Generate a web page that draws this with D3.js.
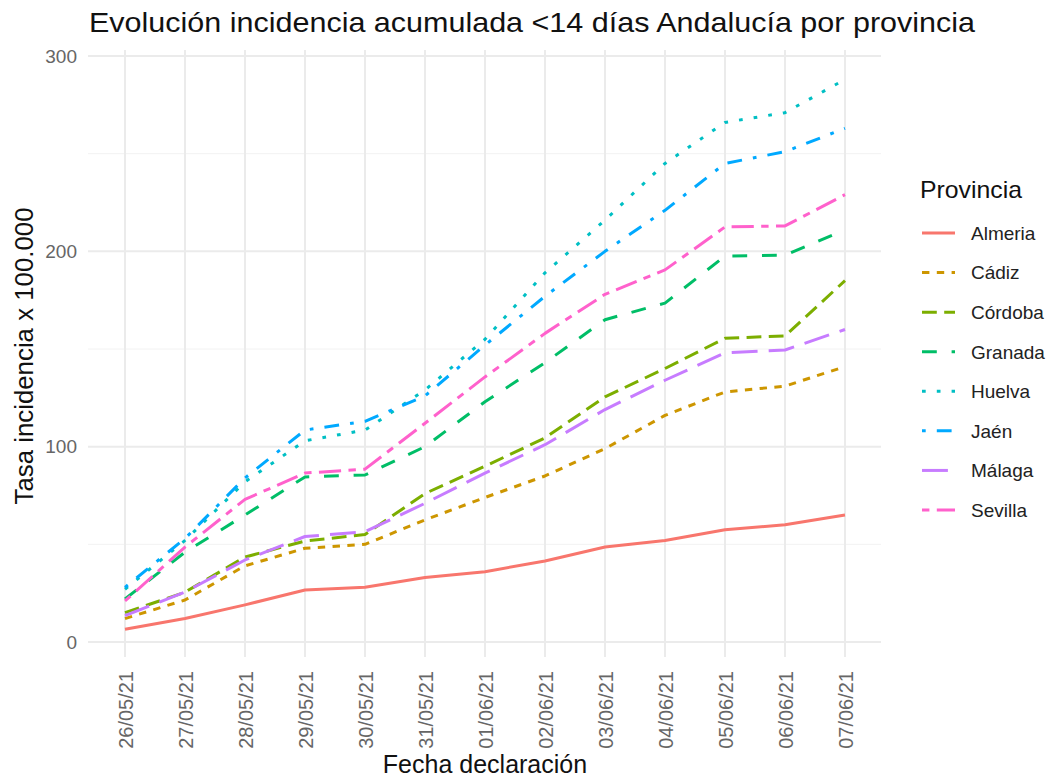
<!DOCTYPE html>
<html><head><meta charset="utf-8">
<script src="https://cdn.jsdelivr.net/npm/d3@7"></script>
<style>body{margin:0;background:#fff}svg{display:block}text{font-family:"Liberation Sans",Arial,sans-serif}</style>
</head><body><svg id="c" width="1055" height="778"></svg>
<script>
const fechas = ["26/05/21","27/05/21","28/05/21","29/05/21","30/05/21","31/05/21","01/06/21","02/06/21","03/06/21","04/06/21","05/06/21","06/06/21","07/06/21"];
const provincias = ["Almeria","Cádiz","Córdoba","Granada","Huelva","Jaén","Málaga","Sevilla"];
const almeria = [6.5,12,19,26.6,28,33,36,41.5,48.6,52,57.5,60,65];
const cadiz   = [12,21.5,39,48,50,62.5,74,85,99,116,128,131,141];
const cordoba = [15,25.5,43.5,51.7,55,76,90,104.5,125.5,140,155.5,156.7,185];
const granada = [22,46,65,84.5,85.5,100,123,143,165,173.5,197.6,198,211];
const huelva  = [27,52,82,103,108.5,129,155,189,216,245,266,271,288];
const jaen    = [28,53,84,108.5,113,126,152,177,200,221,245,251,263];
const malaga  = [13.5,25.6,42,54,56.5,71,86.5,101,119,134,148,149.5,160];
const sevilla = [21,48.6,73,86.5,88.5,112,135.7,158,178,190.5,212.5,213,229];
const yTicks = [0,100,200,300];
const yMinor = [50,150,250];

const series = [almeria,cadiz,cordoba,granada,huelva,jaen,malaga,sevilla];
const colores = ["#F8766D","#CD9600","#7CAE00","#00BE67","#00BFC4","#00A9FF","#C77CFF","#FF61CC"];
const lw = 3, u = 3.7;
const dashes = [null,[2,2],[4,2],[4,4],[1,3],[1,3,4,3],[7,3],[2,2,6,2]].map(d=>d?d.map(v=>v*u).join(","):null);

const svg = d3.select("#c");
const pLeft=88,pRight=881,pTop=50,pBottom=657;
const x = d3.scalePoint().domain(fechas).range([125,845]);
const y = d3.scaleLinear().domain([0,300]).range([642,56]);

svg.append("g").selectAll("line").data(yMinor).join("line")
  .attr("x1",pLeft).attr("x2",pRight).attr("y1",d=>y(d)).attr("y2",d=>y(d))
  .attr("stroke","#f2f2f2").attr("stroke-width",1);
svg.append("g").selectAll("line").data(yTicks).join("line")
  .attr("x1",pLeft).attr("x2",pRight).attr("y1",d=>y(d)).attr("y2",d=>y(d))
  .attr("stroke","#ebebeb").attr("stroke-width",2);
svg.append("g").selectAll("line").data(fechas).join("line")
  .attr("x1",d=>x(d)).attr("x2",d=>x(d)).attr("y1",pTop).attr("y2",pBottom)
  .attr("stroke","#ebebeb").attr("stroke-width",2);

const ya = svg.append("g").attr("transform",`translate(${pLeft},0)`)
  .call(d3.axisLeft(y).tickValues(yTicks).tickSize(0).tickPadding(11));
ya.select(".domain").remove();
ya.selectAll("text").attr("font-size",19).attr("fill","#666").attr("font-family","Liberation Sans, Arial, sans-serif");

const xa = svg.append("g").attr("transform",`translate(0,${pBottom})`)
  .call(d3.axisBottom(x).tickSize(0));
xa.select(".domain").remove();
xa.selectAll("text").attr("font-size",20).attr("fill","#666").attr("font-family","Liberation Sans, Arial, sans-serif")
  .attr("transform","rotate(-90)").attr("text-anchor","end").attr("x",-14).attr("y",0).attr("dy","0.35em");

const line = d3.line().x((d,i)=>x(fechas[i])).y(d=>y(d));
series.forEach((s,k)=>{
  svg.append("path").datum(s).attr("d",line).attr("fill","none")
    .attr("stroke",colores[k]).attr("stroke-width",lw)
    .attr("stroke-dasharray",dashes[k]).attr("stroke-linejoin","round");
});

svg.append("text").attr("x",89).attr("y",32).attr("font-size",28).attr("fill","#111")
  .attr("textLength",886).attr("lengthAdjust","spacingAndGlyphs")
  .text("Evolución incidencia acumulada <14 días Andalucía por provincia");
svg.append("text").attr("x",485).attr("y",773).attr("text-anchor","middle").attr("font-size",25).attr("fill","#111")
  .text("Fecha declaración");
svg.append("text").attr("transform","translate(33,356) rotate(-90)").attr("text-anchor","middle").attr("font-size",26).attr("fill","#111")
  .attr("textLength",297).attr("lengthAdjust","spacingAndGlyphs")
  .text("Tasa incidencia x 100.000");

const lg = svg.append("g");
lg.append("text").attr("x",920).attr("y",198).attr("font-size",24).attr("fill","#111")
  .attr("textLength",102).attr("lengthAdjust","spacingAndGlyphs").text("Provincia");
const ly = d3.scalePoint().domain(provincias).range([233,510]);
provincias.forEach((p,k)=>{
  lg.append("line").attr("x1",922).attr("x2",955).attr("y1",ly(p)).attr("y2",ly(p))
    .attr("stroke",colores[k]).attr("stroke-width",lw).attr("stroke-dasharray",dashes[k]);
  lg.append("text").attr("x",971).attr("y",ly(p)).attr("dy","0.36em").attr("font-size",19).attr("fill","#222").text(p);
});
</script></body></html>
